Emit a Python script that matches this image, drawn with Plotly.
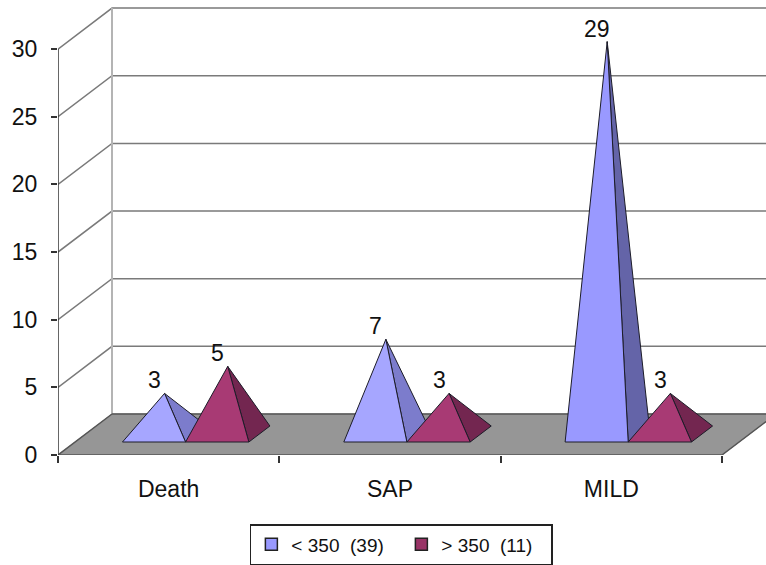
import plotly.graph_objects as go

categories = ["Death", "SAP", "MILD"]
below_350 = [3, 7, 29]
above_350 = [5, 3, 3]
series_names = ["< 350  (39)", "> 350  (11)"]
value_ticks = [0, 5, 10, 15, 20, 25, 30]

# Oblique projection: depth 0 is the front of the floor, depth 1 the back wall.
DEPTH_X = 0.244   # category units per full depth
DEPTH_Y = 3.03    # value units per full depth
BASE_NEAR, BASE_FAR = 0.317, 0.707
BASE_SLOTS = [(0.214, 0.499), (0.499, 0.785)]
FONT = "Liberation Sans"
TEXT_SIZE = 23


def project(x, depth, value=0.0):
    return x + depth * DEPTH_X, value + depth * DEPTH_Y


def polygon(points, fill):
    xs, ys = zip(*points)
    return go.Scatter(
        x=list(xs) + [xs[0]], y=list(ys) + [ys[0]], mode="lines", fill="toself",
        fillcolor=fill, line=dict(color="#1c1c28", width=1),
        hoverinfo="skip", showlegend=False,
    )


def polyline(xs, ys, color, width=1, clip=True):
    return go.Scatter(
        x=xs, y=ys, mode="lines", line=dict(color=color, width=width),
        hoverinfo="skip", showlegend=False, cliponaxis=clip,
    )


def pyramid_apex(cat, slot, value):
    left, right = BASE_SLOTS[slot]
    return project(cat + (left + right) / 2, (BASE_NEAR + BASE_FAR) / 2, value)


def pyramid_faces(cat, slot, value, front, side):
    left, right = BASE_SLOTS[slot]
    near_left = project(cat + left, BASE_NEAR)
    near_right = project(cat + right, BASE_NEAR)
    far_right = project(cat + right, BASE_FAR)
    apex = pyramid_apex(cat, slot, value)
    return [polygon([near_right, far_right, apex], side),
            polygon([near_left, near_right, apex], front)]


fig = go.Figure()

# Back wall, left wall and floor
fig.add_trace(polygon([project(0, 0), project(3, 0), project(3, 1), project(0, 1)], "#969696"))
fig.data[-1].line.color = "#969696"

wall_x, wall_y = [], []
for v in value_ticks[1:]:
    bx, by = project(0, 1, v)
    wall_x += [0, bx, 3.3, None]
    wall_y += [v, by, by, None]
fig.add_trace(polyline(wall_x, wall_y, "#7a7a7a", 1.5))
fig.add_trace(polyline([DEPTH_X, DEPTH_X], [DEPTH_Y, 30 + DEPTH_Y], "#b4b4b4", 2))

floor_edge_x = [project(0, 1)[0], 0, 3, project(3, 1)[0], None, DEPTH_X, 3 + DEPTH_X]
floor_edge_y = [DEPTH_Y, 0, 0, DEPTH_Y, None, DEPTH_Y, DEPTH_Y]
fig.add_trace(polyline(floor_edge_x, floor_edge_y, "#555555", 1.5, clip=False))
fig.add_trace(polyline([0, 0], [0, 30], "#333333", 1.5, clip=False))

# Pyramids, back to front within each category
LOW_COLORS = ("#A6A6FF", "#7C7CCC")
LOW_TALL_COLORS = ("#9999FF", "#6464A8")
HIGH_COLORS = ("#A83A74", "#732650")

for cat in range(len(categories)):
    low = below_350[cat]
    front, side = LOW_TALL_COLORS if low > 20 else LOW_COLORS
    for face in pyramid_faces(cat, 0, low, front, side):
        fig.add_trace(face)
    for face in pyramid_faces(cat, 1, above_350[cat], *HIGH_COLORS):
        fig.add_trace(face)

# Legend entries
for name, color in zip(series_names, ("#9999FF", "#993366")):
    fig.add_trace(go.Scatter(
        x=[None], y=[None], mode="markers", name=name,
        marker=dict(symbol="square", size=12, color=color, line=dict(color="#222222", width=1.5)),
    ))

# Value labels above each apex
labels = []
for cat in range(len(categories)):
    for slot, series in enumerate((below_350, above_350)):
        ax, ay = pyramid_apex(cat, slot, series[cat])
        labels.append(dict(
            x=ax, y=ay, xref="x", yref="y", text=str(series[cat]), showarrow=False,
            xanchor="center", yanchor="bottom", xshift=-10, yshift=-2,
            font=dict(family=FONT, size=TEXT_SIZE, color="#111111"),
        ))

fig.update_layout(
    width=766, height=565,
    margin=dict(l=58, r=0, t=0, b=110, autoexpand=False),
    paper_bgcolor="white", plot_bgcolor="white",
    font=dict(family=FONT, size=TEXT_SIZE, color="#111111"),
    annotations=labels,
    xaxis=dict(
        range=[0, 3.199], showgrid=False, zeroline=False, showline=False,
        tickvals=[0.5, 1.5, 2.5], ticktext=categories, ticks="", ticklabelstandoff=18,
        minor=dict(tickvals=[0, 1, 2, 3], ticks="outside", ticklen=7, tickcolor="#333333", tickwidth=1.5),
        tickfont=dict(family=FONT, size=TEXT_SIZE, color="#111111"),
    ),
    yaxis=dict(
        range=[0, 33.63], showgrid=False, zeroline=False, showline=False,
        tickvals=value_ticks, ticks="outside", ticklen=6, tickcolor="#333333", tickwidth=1.5,
        ticklabelstandoff=9,
        tickfont=dict(family=FONT, size=TEXT_SIZE, color="#111111"),
    ),
    showlegend=True,
    legend=dict(
        orientation="h", x=0.271, xref="paper", xanchor="left", y=0, yref="container", yanchor="bottom",
        bordercolor="#222222", borderwidth=1.5, bgcolor="white",
        entrywidth=105, entrywidthmode="pixels",
        font=dict(family=FONT, size=19, color="#111111"),
    ),
)

fig.write_html("out.html")
